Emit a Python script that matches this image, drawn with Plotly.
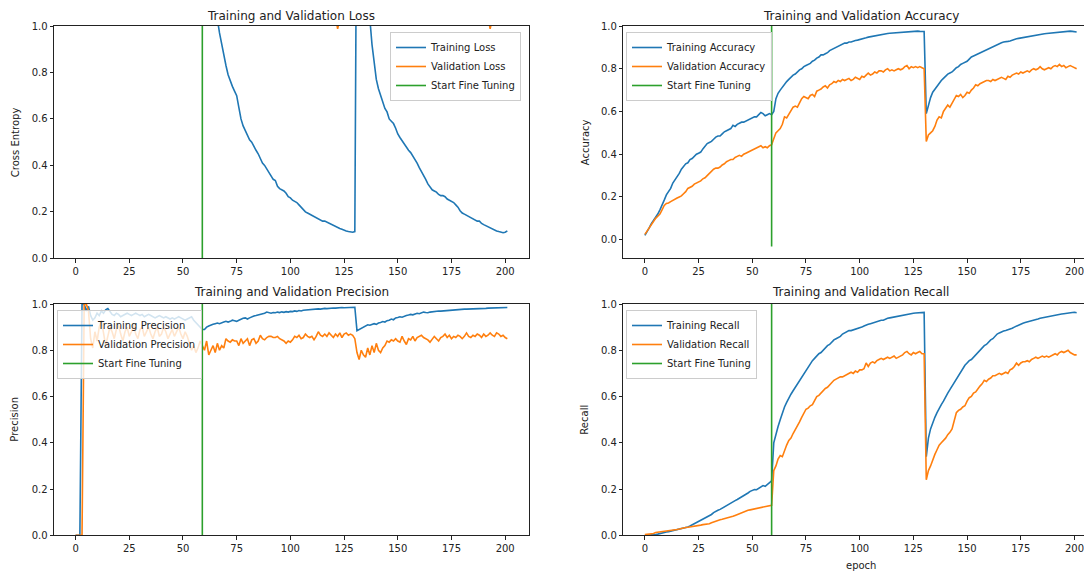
import plotly.graph_objects as go

# ---------------- data ----------------
epochs = list(range(202))
finetune_epoch = 59

train_loss = [3.10, 2.85, 2.70, 2.60, 2.52, 2.45, 2.40, 2.35, 2.30, 2.26,
              2.22, 2.19, 2.16, 2.13, 2.10, 2.08, 2.05, 2.03, 2.01, 1.99,
              1.97, 1.95, 1.93, 1.92, 1.90, 1.89, 1.87, 1.86, 1.85, 1.83,
              1.82, 1.81, 1.80, 1.79, 1.78, 1.77, 1.76, 1.75, 1.74, 1.73,
              1.72, 1.71, 1.71, 1.70, 1.69, 1.68, 1.68, 1.67, 1.66, 1.66,
              1.65, 1.64, 1.64, 1.63, 1.63, 1.62, 1.62, 1.61, 1.61, 1.60,
              1.80, 1.55, 1.40, 1.28, 1.18, 1.10, 1.03, 0.97, 0.92, 0.87,
              0.83, 0.79, 0.76, 0.74, 0.72, 0.70, 0.65, 0.60, 0.57, 0.55,
              0.53, 0.51, 0.50, 0.48, 0.465, 0.45, 0.43, 0.41, 0.40, 0.385,
              0.37, 0.355, 0.34, 0.335, 0.31, 0.30, 0.295, 0.29, 0.28, 0.265,
              0.26, 0.25, 0.245, 0.24, 0.23, 0.22, 0.21, 0.20, 0.195, 0.19,
              0.185, 0.18, 0.175, 0.17, 0.165, 0.16, 0.16, 0.155, 0.15, 0.145,
              0.14, 0.135, 0.13, 0.128, 0.125, 0.12, 0.118, 0.115, 0.113, 0.112,
              0.115,
              1.85, 1.60, 1.42, 1.30, 1.20, 1.11, 1.03, 0.92, 0.84, 0.77,
              0.73, 0.70, 0.67, 0.645, 0.63, 0.60, 0.59, 0.58, 0.56, 0.535,
              0.52, 0.505, 0.49, 0.475, 0.465, 0.455, 0.44, 0.43, 0.41, 0.39,
              0.375, 0.36, 0.34, 0.32, 0.305, 0.295, 0.29, 0.285, 0.275, 0.27,
              0.27, 0.265, 0.255, 0.25, 0.245, 0.24, 0.23, 0.22, 0.205, 0.195,
              0.19, 0.185, 0.18, 0.175, 0.17, 0.165, 0.16, 0.16, 0.15, 0.145,
              0.14, 0.135, 0.13, 0.127, 0.122, 0.118, 0.115, 0.112, 0.11, 0.112,
              0.118]

val_loss = [2.60, 2.45, 2.35, 2.28, 2.22, 2.17, 2.13, 2.10, 2.07, 2.04,
            2.02, 2.00, 1.98, 1.96, 1.95, 1.93, 1.92, 1.90, 1.89, 1.88,
            1.87, 1.86, 1.85, 1.84, 1.83, 1.82, 1.81, 1.80, 1.80, 1.79,
            1.78, 1.77, 1.77, 1.76, 1.75, 1.75, 1.74, 1.73, 1.73, 1.72,
            1.72, 1.71, 1.71, 1.70, 1.70, 1.69, 1.69, 1.68, 1.68, 1.67,
            1.67, 1.66, 1.66, 1.66, 1.65, 1.65, 1.64, 1.64, 1.64, 1.63,
            1.60, 1.52, 1.46, 1.42, 1.38, 1.35, 1.32, 1.30, 1.28, 1.26,
            1.25, 1.23, 1.22, 1.21, 1.20, 1.19, 1.18, 1.17, 1.16, 1.16,
            1.15, 1.14, 1.14, 1.13, 1.13, 1.12, 1.12, 1.11, 1.11, 1.10,
            1.10, 1.10, 1.09, 1.09, 1.09, 1.08, 1.08, 1.08, 1.07, 1.07,
            1.07, 1.07, 1.06, 1.06, 1.06, 1.06, 1.05, 1.05, 1.05, 1.05,
            1.05, 1.04, 1.04, 1.04, 1.04, 1.04, 1.03, 1.03, 1.03, 1.03,
            1.03, 1.04, 0.988, 1.03, 1.02, 1.03, 1.02, 1.03, 1.02, 1.03,
            1.03,
            1.70, 1.55, 1.45, 1.38, 1.33, 1.29, 1.26, 1.24, 1.22, 1.20,
            1.19, 1.18, 1.17, 1.16, 1.15, 1.14, 1.13, 1.13, 1.12, 1.11,
            1.11, 1.10, 1.10, 1.09, 1.09, 1.08, 1.08, 1.08, 1.07, 1.07,
            1.07, 1.06, 1.06, 1.06, 1.05, 1.05, 1.05, 1.05, 1.04, 1.04,
            1.04, 1.04, 1.04, 1.03, 1.03, 1.03, 1.03, 1.03, 1.03, 1.02,
            1.03, 1.02, 1.03, 1.02, 1.03, 1.02, 1.02, 1.03, 1.02, 1.03,
            1.02, 1.04, 0.988, 1.03, 1.02, 1.03, 1.02, 1.03, 1.02, 1.03,
            1.03]

train_acc = [0.020, 0.035, 0.055, 0.075, 0.090, 0.100, 0.120, 0.140, 0.160, 0.185,
             0.210, 0.225, 0.240, 0.265, 0.280, 0.290, 0.310, 0.330, 0.345, 0.355,
             0.360, 0.375, 0.380, 0.390, 0.400, 0.405, 0.410, 0.425, 0.440, 0.450,
             0.455, 0.460, 0.470, 0.480, 0.485, 0.485, 0.495, 0.505, 0.510, 0.515,
             0.520, 0.535, 0.530, 0.540, 0.545, 0.550, 0.550, 0.555, 0.560, 0.565,
             0.570, 0.575, 0.575, 0.585, 0.595, 0.590, 0.580, 0.585, 0.590, 0.585,
             0.600, 0.660, 0.685, 0.700, 0.715, 0.730, 0.740, 0.750, 0.760, 0.770,
             0.775, 0.785, 0.795, 0.800, 0.810, 0.815, 0.820, 0.825, 0.835, 0.840,
             0.850, 0.855, 0.865, 0.865, 0.870, 0.875, 0.885, 0.890, 0.895, 0.900,
             0.905, 0.910, 0.915, 0.920, 0.920, 0.925, 0.925, 0.930, 0.932, 0.934,
             0.936, 0.940, 0.942, 0.945, 0.948, 0.950, 0.953, 0.955, 0.958, 0.958,
             0.960, 0.962, 0.963, 0.965, 0.966, 0.967, 0.968, 0.969, 0.970, 0.970,
             0.971, 0.972, 0.972, 0.973, 0.975, 0.974, 0.975, 0.976, 0.975, 0.975,
             0.974,
             0.590, 0.630, 0.665, 0.690, 0.705, 0.720, 0.735, 0.745, 0.755, 0.765,
             0.775, 0.780, 0.785, 0.795, 0.805, 0.810, 0.820, 0.825, 0.830, 0.835,
             0.845, 0.855, 0.860, 0.865, 0.870, 0.875, 0.880, 0.885, 0.890, 0.895,
             0.900, 0.905, 0.910, 0.915, 0.918, 0.922, 0.925, 0.925, 0.928, 0.930,
             0.934, 0.937, 0.940, 0.942, 0.944, 0.946, 0.948, 0.950, 0.953, 0.955,
             0.957, 0.958, 0.960, 0.962, 0.963, 0.964, 0.965, 0.966, 0.967, 0.968,
             0.970, 0.971, 0.972, 0.973, 0.974, 0.975, 0.977, 0.976, 0.975, 0.974,
             0.972]

val_acc = [0.025, 0.040, 0.055, 0.075, 0.090, 0.100, 0.110, 0.120, 0.140, 0.160,
           0.170, 0.172, 0.178, 0.185, 0.190, 0.195, 0.200, 0.205, 0.215, 0.225,
           0.240, 0.245, 0.250, 0.260, 0.265, 0.270, 0.275, 0.285, 0.290, 0.300,
           0.310, 0.320, 0.330, 0.335, 0.335, 0.340, 0.350, 0.355, 0.365, 0.370,
           0.375, 0.375, 0.385, 0.390, 0.395, 0.390, 0.400, 0.405, 0.410, 0.415,
           0.420, 0.425, 0.430, 0.435, 0.440, 0.430, 0.435, 0.430, 0.440, 0.445,
           0.470, 0.500, 0.510, 0.520, 0.540, 0.575, 0.570, 0.585, 0.600, 0.620,
           0.625, 0.620, 0.640, 0.660, 0.670, 0.665, 0.660, 0.675, 0.680, 0.670,
           0.695, 0.700, 0.705, 0.715, 0.720, 0.710, 0.725, 0.730, 0.740, 0.735,
           0.745, 0.740, 0.750, 0.745, 0.750, 0.755, 0.745, 0.750, 0.760, 0.755,
           0.750, 0.765, 0.760, 0.770, 0.780, 0.770, 0.775, 0.785, 0.780, 0.790,
           0.790, 0.785, 0.795, 0.800, 0.790, 0.795, 0.790, 0.795, 0.800, 0.795,
           0.800, 0.810, 0.815, 0.800, 0.810, 0.805, 0.810, 0.805, 0.810, 0.805,
           0.800,
           0.460, 0.490, 0.500, 0.510, 0.530, 0.560, 0.575, 0.570, 0.600, 0.615,
           0.630, 0.620, 0.640, 0.660, 0.675, 0.670, 0.680, 0.665, 0.675, 0.690,
           0.685, 0.700, 0.710, 0.725, 0.720, 0.730, 0.735, 0.740, 0.745, 0.745,
           0.740, 0.750, 0.745, 0.750, 0.755, 0.760, 0.755, 0.750, 0.765, 0.760,
           0.770, 0.775, 0.780, 0.775, 0.785, 0.780, 0.785, 0.790, 0.785, 0.795,
           0.800, 0.795, 0.800, 0.810, 0.800, 0.795, 0.800, 0.805, 0.800, 0.810,
           0.815, 0.810, 0.820, 0.810, 0.815, 0.805, 0.810, 0.815, 0.810, 0.805,
           0.800]

train_prec = [0.0, 0.0, 0.0, 1.0, 1.0, 0.97, 0.99, 0.95, 0.93, 0.94,
              0.96, 0.95, 0.97, 0.96, 0.975, 0.98, 0.965, 0.955, 0.95, 0.96,
              0.955, 0.945, 0.95, 0.955, 0.96, 0.955, 0.95, 0.955, 0.96, 0.955,
              0.95, 0.955, 0.945, 0.95, 0.955, 0.95, 0.945, 0.94, 0.945, 0.95,
              0.945, 0.94, 0.945, 0.94, 0.935, 0.94, 0.935, 0.94, 0.945, 0.94,
              0.935, 0.93, 0.935, 0.94, 0.945, 0.93, 0.92, 0.91, 0.90, 0.89,
              0.89, 0.90, 0.905, 0.91, 0.912, 0.915, 0.918, 0.915, 0.92, 0.922,
              0.925, 0.922, 0.925, 0.93, 0.928, 0.925, 0.93, 0.935, 0.938, 0.94,
              0.935, 0.94, 0.945, 0.948, 0.95, 0.952, 0.955, 0.958, 0.96, 0.965,
              0.962, 0.96, 0.963, 0.962, 0.965, 0.963, 0.966, 0.964, 0.967, 0.965,
              0.968, 0.967, 0.97, 0.968, 0.972, 0.97, 0.973, 0.974, 0.975, 0.976,
              0.975, 0.977, 0.978, 0.979, 0.978, 0.98, 0.981, 0.98, 0.982, 0.981,
              0.983, 0.982, 0.984, 0.983, 0.985, 0.984, 0.985, 0.986, 0.985, 0.986,
              0.986,
              0.885, 0.89, 0.895, 0.90, 0.905, 0.91, 0.908, 0.912, 0.915, 0.912,
              0.918, 0.92, 0.924, 0.922, 0.928, 0.93, 0.935, 0.932, 0.94, 0.942,
              0.945, 0.943, 0.948, 0.95, 0.952, 0.955, 0.953, 0.958, 0.96, 0.958,
              0.962, 0.965, 0.963, 0.962, 0.965, 0.967, 0.966, 0.968, 0.97, 0.969,
              0.97, 0.972, 0.971, 0.973, 0.974, 0.975, 0.976, 0.976, 0.977, 0.977,
              0.978, 0.978, 0.978, 0.979, 0.979, 0.98, 0.98, 0.98, 0.981, 0.981,
              0.981, 0.982, 0.982, 0.982, 0.983, 0.983, 0.983, 0.984, 0.984, 0.984,
              0.985]

val_prec = [0.0, 0.0, 0.0, 0.0, 1.0, 1.0, 0.97, 0.85, 0.81, 0.88,
            0.84, 0.90, 0.93, 0.87, 0.82, 0.86, 0.90, 0.88, 0.85, 0.89,
            0.91, 0.87, 0.84, 0.88, 0.90, 0.86, 0.88, 0.91, 0.87, 0.85,
            0.89, 0.90, 0.86, 0.88, 0.90, 0.87, 0.85, 0.88, 0.90, 0.86,
            0.87, 0.90, 0.88, 0.85, 0.87, 0.89, 0.86, 0.88, 0.90, 0.87,
            0.85, 0.88, 0.86, 0.83, 0.80, 0.82, 0.79, 0.81, 0.84, 0.82,
            0.80, 0.84, 0.78, 0.80, 0.82, 0.79, 0.83, 0.80, 0.82, 0.81,
            0.85, 0.84, 0.835, 0.845, 0.84, 0.84, 0.82, 0.85, 0.83, 0.84,
            0.85, 0.82, 0.845, 0.85, 0.83, 0.84, 0.865, 0.85, 0.845, 0.855,
            0.86, 0.86, 0.855, 0.855, 0.86, 0.85, 0.845, 0.84, 0.83, 0.84,
            0.835, 0.845, 0.86, 0.855, 0.865, 0.85, 0.855, 0.87, 0.86, 0.855,
            0.86, 0.845, 0.86, 0.88, 0.865, 0.86, 0.87, 0.86, 0.875, 0.865,
            0.855, 0.87, 0.86, 0.875, 0.855, 0.87, 0.875, 0.865, 0.87, 0.865,
            0.85,
            0.79, 0.76, 0.80, 0.78, 0.77, 0.81, 0.78, 0.82, 0.79, 0.83,
            0.80, 0.79, 0.81, 0.82, 0.84, 0.835, 0.845, 0.84, 0.85, 0.84,
            0.835, 0.86, 0.84, 0.825, 0.85, 0.845, 0.86, 0.84, 0.855, 0.86,
            0.865, 0.855, 0.85, 0.845, 0.835, 0.85, 0.86, 0.85, 0.84, 0.855,
            0.86, 0.87, 0.855, 0.865, 0.85, 0.86, 0.855, 0.865, 0.86, 0.85,
            0.86, 0.875, 0.86, 0.855, 0.865, 0.86, 0.87, 0.865, 0.855, 0.87,
            0.86, 0.865, 0.875, 0.865, 0.86, 0.875, 0.87, 0.86, 0.865, 0.855,
            0.85]

train_rec = [0.0, 0.0, 0.0, 0.001, 0.002, 0.003, 0.005, 0.008, 0.010, 0.012,
             0.014, 0.016, 0.018, 0.020, 0.022, 0.024, 0.027, 0.030, 0.032, 0.034,
             0.036, 0.040, 0.045, 0.050, 0.055, 0.058, 0.062, 0.068, 0.075, 0.080,
             0.083, 0.090, 0.098, 0.104, 0.108, 0.112, 0.118, 0.124, 0.128, 0.133,
             0.140, 0.146, 0.150, 0.155, 0.160, 0.165, 0.170, 0.178, 0.183, 0.190,
             0.195, 0.198, 0.197, 0.202, 0.210, 0.215, 0.212, 0.220, 0.228, 0.235,
             0.400, 0.440, 0.470, 0.500, 0.530, 0.555, 0.575, 0.595, 0.610, 0.625,
             0.640, 0.655, 0.670, 0.685, 0.700, 0.715, 0.730, 0.745, 0.755, 0.765,
             0.775, 0.785, 0.790, 0.800, 0.810, 0.820, 0.825, 0.835, 0.845, 0.850,
             0.855, 0.860, 0.870, 0.875, 0.880, 0.885, 0.885, 0.888, 0.890, 0.892,
             0.895, 0.900, 0.905, 0.910, 0.912, 0.915, 0.918, 0.922, 0.925, 0.928,
             0.930, 0.930, 0.935, 0.938, 0.940, 0.942, 0.945, 0.946, 0.948, 0.950,
             0.952, 0.953, 0.955, 0.957, 0.958, 0.960, 0.961, 0.962, 0.963, 0.964,
             0.964,
             0.340, 0.420, 0.460, 0.490, 0.510, 0.530, 0.550, 0.565, 0.580, 0.600,
             0.615, 0.630, 0.645, 0.665, 0.680, 0.690, 0.705, 0.720, 0.735, 0.745,
             0.755, 0.760, 0.770, 0.780, 0.790, 0.800, 0.810, 0.820, 0.825, 0.835,
             0.845, 0.850, 0.860, 0.870, 0.875, 0.880, 0.883, 0.885, 0.888, 0.890,
             0.895, 0.900, 0.905, 0.910, 0.913, 0.917, 0.920, 0.922, 0.925, 0.928,
             0.930, 0.933, 0.935, 0.938, 0.940, 0.942, 0.945, 0.947, 0.950, 0.952,
             0.953, 0.955, 0.956, 0.957, 0.958, 0.960, 0.961, 0.962, 0.963, 0.964,
             0.962]

val_rec = [0.003, 0.004, 0.005, 0.006, 0.008, 0.012, 0.013, 0.014, 0.015, 0.016,
           0.017, 0.018, 0.019, 0.021, 0.023, 0.025, 0.027, 0.030, 0.032, 0.034,
           0.035, 0.036, 0.038, 0.040, 0.041, 0.042, 0.044, 0.046, 0.047, 0.049,
           0.050, 0.054, 0.058, 0.062, 0.065, 0.067, 0.069, 0.071, 0.073, 0.075,
           0.078, 0.082, 0.086, 0.090, 0.095, 0.099, 0.102, 0.105, 0.108, 0.110,
           0.112, 0.115, 0.117, 0.120, 0.122, 0.124, 0.126, 0.125, 0.128, 0.130,
           0.280, 0.300, 0.330, 0.345, 0.340, 0.370, 0.390, 0.410, 0.420, 0.440,
           0.455, 0.470, 0.490, 0.510, 0.530, 0.545, 0.550, 0.560, 0.565, 0.580,
           0.600, 0.605, 0.615, 0.625, 0.635, 0.640, 0.650, 0.660, 0.670, 0.675,
           0.680, 0.685, 0.685, 0.690, 0.695, 0.700, 0.705, 0.700, 0.710, 0.705,
           0.715, 0.715, 0.720, 0.745, 0.730, 0.745, 0.750, 0.745, 0.755, 0.760,
           0.765, 0.760, 0.765, 0.770, 0.765, 0.770, 0.775, 0.765, 0.770, 0.775,
           0.780, 0.790, 0.795, 0.785, 0.780, 0.790, 0.785, 0.790, 0.795, 0.785,
           0.785,
           0.240, 0.280, 0.300, 0.330, 0.350, 0.370, 0.390, 0.400, 0.410, 0.420,
           0.435, 0.445, 0.460, 0.490, 0.530, 0.540, 0.545, 0.555, 0.560, 0.580,
           0.595, 0.600, 0.615, 0.620, 0.635, 0.645, 0.655, 0.670, 0.665, 0.675,
           0.680, 0.690, 0.690, 0.695, 0.700, 0.695, 0.700, 0.705, 0.700, 0.715,
           0.720, 0.730, 0.745, 0.735, 0.745, 0.750, 0.750, 0.755, 0.750, 0.760,
           0.765, 0.770, 0.765, 0.770, 0.775, 0.770, 0.775, 0.770, 0.775, 0.780,
           0.785, 0.780, 0.790, 0.795, 0.790, 0.795, 0.800, 0.790, 0.785, 0.780,
           0.780]

vline_loss = [0.0, 1.0]
vline_acc = [-0.032, 1.02]
vline_prec = [0.0, 1.0]
vline_rec = [0.0, 1.0]

titles = ["Training and Validation Loss", "Training and Validation Accuracy",
          "Training and Validation Precision", "Training and Validation Recall"]
ylabels = ["Cross Entropy", "Accuracy", "Precision", "Recall"]
xlabel = "epoch"
xtick_vals = [0, 25, 50, 75, 100, 125, 150, 175, 200]
ytick_vals = [0.0, 0.2, 0.4, 0.6, 0.8, 1.0]

for name, arr in [("train_loss", train_loss), ("val_loss", val_loss), ("train_acc", train_acc),
                  ("val_acc", val_acc), ("train_prec", train_prec), ("val_prec", val_prec),
                  ("train_rec", train_rec), ("val_rec", val_rec)]:
    assert len(arr) == len(epochs), f"{name} has {len(arr)}"

# ---------------- figure ----------------
W, H = 1092, 575
OFF = 8.0  # page body margin: page px = figure px + OFF
BLUE, ORANGE, GREEN = "#1f77b4", "#ff7f0e", "#2ca02c"
FONT = "DejaVu Sans"
TXT = "#222222"

fig = go.Figure()

panels = [
    ("", train_loss, val_loss, vline_loss, ("Training Loss", "Validation Loss"), "legend"),
    ("2", train_acc, val_acc, vline_acc, ("Training Accuracy", "Validation Accuracy"), "legend2"),
    ("3", train_prec, val_prec, vline_prec, ("Training Precision", "Validation Precision"), "legend3"),
    ("4", train_rec, val_rec, vline_rec, ("Training Recall", "Validation Recall"), "legend4"),
]

for suf, tr, va, vl, labs, leg in panels:
    xa, ya = "x" + suf, "y" + suf
    fig.add_trace(go.Scatter(x=epochs, y=tr, mode="lines", name=labs[0],
                             line=dict(color=BLUE, width=1.6), xaxis=xa, yaxis=ya, legend=leg))
    fig.add_trace(go.Scatter(x=epochs, y=va, mode="lines", name=labs[1],
                             line=dict(color=ORANGE, width=1.6), xaxis=xa, yaxis=ya, legend=leg))
    fig.add_trace(go.Scatter(x=[finetune_epoch, finetune_epoch], y=vl, mode="lines",
                             name="Start Fine Tuning",
                             line=dict(color=GREEN, width=1.6), xaxis=xa, yaxis=ya, legend=leg))

# reference geometry in page pixels
L_left, L_right = 54.0, 528.7
R_left = 623.3
top_t, top_b = 26.0, 258.3
bot_t, bot_b = 304.0, 535.3
px_per_unit = 2.148
x0 = -10.05


def fx(px):
    return (px - OFF) / W


def fy(py):
    return 1 - (py - OFF) / H


xr_left = [x0, x0 + (L_right - L_left) / px_per_unit]
xr_right = [x0, x0 + (W + OFF - R_left) / px_per_unit]

axis_common = dict(showline=True, linecolor="#222222", linewidth=0.8, ticks="outside",
                   ticklen=3.5, tickwidth=0.8, tickcolor="#222222", showgrid=False,
                   zeroline=False, automargin=False,
                   tickfont=dict(family=FONT, size=10, color=TXT))

x_left_dom = [fx(L_left), fx(L_right)]
x_right_dom = [fx(R_left), 1.0]
y_top_dom = [fy(top_b), fy(top_t)]
y_bot_dom = [fy(bot_b), fy(bot_t)]

layout = dict(
    width=W, height=H, margin=dict(l=0, r=0, t=0, b=0, autoexpand=False),
    paper_bgcolor="white", plot_bgcolor="white",
    font=dict(family=FONT, size=10, color=TXT),
    showlegend=True,
    xaxis=dict(domain=x_left_dom, range=xr_left, anchor="y", tickvals=xtick_vals, mirror=True, **axis_common),
    yaxis=dict(domain=y_top_dom, range=[0, 1], anchor="x", tickvals=ytick_vals,
               tickformat=".1f", mirror=True, **axis_common),
    xaxis2=dict(domain=x_right_dom, range=xr_right, anchor="y2", tickvals=xtick_vals, mirror=True, **axis_common),
    yaxis2=dict(domain=y_top_dom, range=[-0.087, 1], anchor="x2", tickvals=ytick_vals,
                tickformat=".1f", mirror=False, **axis_common),
    xaxis3=dict(domain=x_left_dom, range=xr_left, anchor="y3", tickvals=xtick_vals, mirror=True, **axis_common),
    yaxis3=dict(domain=y_bot_dom, range=[0, 1], anchor="x3", tickvals=ytick_vals,
                tickformat=".1f", mirror=True, **axis_common),
    xaxis4=dict(domain=x_right_dom, range=xr_right, anchor="y4", tickvals=xtick_vals, mirror=True, **axis_common),
    yaxis4=dict(domain=y_bot_dom, range=[0, 1], anchor="x4", tickvals=ytick_vals,
                tickformat=".1f", mirror=False, **axis_common),
)

legend_common = dict(bgcolor="rgba(255,255,255,0.8)", bordercolor="#cccccc", borderwidth=1,
                     font=dict(family=FONT, size=10, color=TXT), tracegroupgap=0,
                     itemwidth=30)
layout["legend"] = dict(x=fx(521), y=fy(32), xanchor="right", yanchor="top", **legend_common)
layout["legend2"] = dict(x=fx(626), y=fy(32), xanchor="left", yanchor="top", **legend_common)
layout["legend3"] = dict(x=fx(57), y=fy(310), xanchor="left", yanchor="top", **legend_common)
layout["legend4"] = dict(x=fx(626), y=fy(310), xanchor="left", yanchor="top", **legend_common)

fig.update_layout(**layout)

# titles and axis labels (page pixel positions from the reference)
full_right_center = (R_left + (R_left + (L_right - L_left))) / 2
centers_x = [(L_left + L_right) / 2, full_right_center, (L_left + L_right) / 2, full_right_center]
for i, (t, cx) in enumerate(zip(titles, centers_x)):
    if i < 2:
        # top row: anchored to the top edge of the figure so nothing is clipped
        fig.add_annotation(text=t, x=fx(cx), y=1.0, xref="paper", yref="paper",
                           showarrow=False, xanchor="center", yanchor="top", borderpad=0,
                           font=dict(family=FONT, size=12, color=TXT))
    else:
        fig.add_annotation(text=t, x=fx(cx), y=fy(291.5), xref="paper", yref="paper",
                           showarrow=False, xanchor="center", yanchor="middle",
                           font=dict(family=FONT, size=12, color=TXT))

ylab_pos = [(15, (top_t + top_b) / 2), (585, (top_t + top_b) / 2),
            (15, (bot_t + bot_b) / 2), (585, (bot_t + bot_b) / 2)]
for lab, (lx, ly) in zip(ylabels, ylab_pos):
    fig.add_annotation(text=lab, x=fx(lx), y=fy(ly), xref="paper", yref="paper",
                       showarrow=False, xanchor="center", yanchor="middle", textangle=-90,
                       font=dict(family=FONT, size=10, color=TXT))

fig.add_annotation(text=xlabel, x=fx(full_right_center), y=fy(565), xref="paper", yref="paper",
                   showarrow=False, xanchor="center", yanchor="middle",
                   font=dict(family=FONT, size=10, color=TXT))

fig.write_html("out.html")
